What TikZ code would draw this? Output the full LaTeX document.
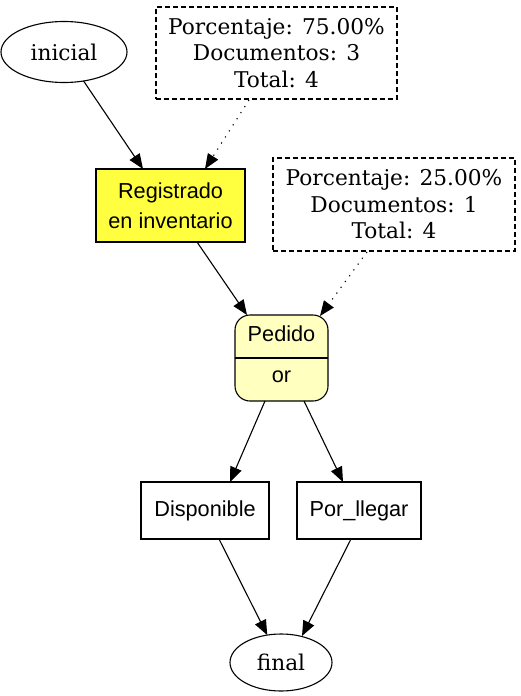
\documentclass[tikz,border=0pt]{standalone}
\usepackage{fontspec}
\setmainfont{DejaVu Serif}
\newfontfamily\sansf{Liberation Sans}
\usetikzlibrary{arrows.meta,shapes.geometric,calc}
\definecolor{regyellow}{RGB}{255,255,64}
\definecolor{pedyellow}{RGB}{255,255,192}
\tikzset{
  every node/.style={inner sep=0pt, outer sep=0pt},
  serif/.style={font=\fontsize{21.7pt}{26.5pt}\selectfont, align=center},
  sanstext/.style={font=\sansf\fontsize{21.7pt}{30pt}\selectfont, align=center},
  oval/.style={ellipse, draw, line width=1.1pt, serif},
  notebox/.style={draw, dashed, dash pattern=on 5pt off 3pt, line width=1.1pt, serif},
  taskbox/.style={draw, line width=1.1pt, sanstext},
  edge/.style={line width=1.1pt, -{Triangle[length=15pt,width=12pt]}},
  noteedge/.style={edge, dash pattern=on 1.2pt off 6pt},
}
\begin{document}
\begin{tikzpicture}[x=1pt,y=-1pt]
\useasboundingbox (0,0) rectangle (520,696);
\node[oval, minimum width=126, minimum height=61] (ini) at (64,52) {inicial};
\node[notebox, minimum width=241, minimum height=92] (n1) at (276.5,53) {Porcentaje: 75.00\%\\Documentos: 3\\Total: 4};
\node[taskbox, fill=regyellow, minimum width=149, minimum height=73] (reg) at (170.5,205.5) {Registrado\\en inventario};
\node[notebox, minimum width=242, minimum height=93] (n2) at (394,204.5) {Porcentaje: 25.00\%\\Documentos: 1\\Total: 4};
\node[draw, line width=1.1pt, rounded corners=15pt, fill=pedyellow, minimum width=93, minimum height=86] (ped) at (281.5,358) {};
\draw[line width=1.1pt] (ped.west) -- (ped.east);
\node[sanstext] (pedtxt) at (281.5,334) {Pedido};
\node[sanstext] (ortxt) at (281.5,377) {or};
\node[taskbox, minimum width=128, minimum height=57] (disp) at (205,510.5) {Disponible};
\node[taskbox, minimum width=124, minimum height=57] (porl) at (359,510.5) {Por\_llegar};
\node[oval, minimum width=102, minimum height=57] (fin) at (281,662.5) {final};

\draw[edge] (ini) -- ($(reg.north west)+(47,0)$);
\draw[noteedge] ($(n1.south west)+(93,1)$) -- ($(reg.north west)+(109,0)$);
\draw[edge] ($(reg.south west)+(101,0)$) -- ($(ped.north west)+(12,0)$);
\draw[noteedge] ($(n2.south west)+(94,1)$) -- ($(ped.north west)+(85,1)$);
\draw[edge] ($(ped.south west)+(30,0)$) -- ($(disp.north west)+(89,0)$);
\draw[edge] ($(ped.south west)+(69,0)$) -- ($(porl.north west)+(46,0)$);
\draw[edge] ($(disp.south west)+(78,0)$) -- (fin);
\draw[edge] ($(porl.south west)+(54,0)$) -- ($(fin.north)+(21,2)$);
\end{tikzpicture}
\end{document}
